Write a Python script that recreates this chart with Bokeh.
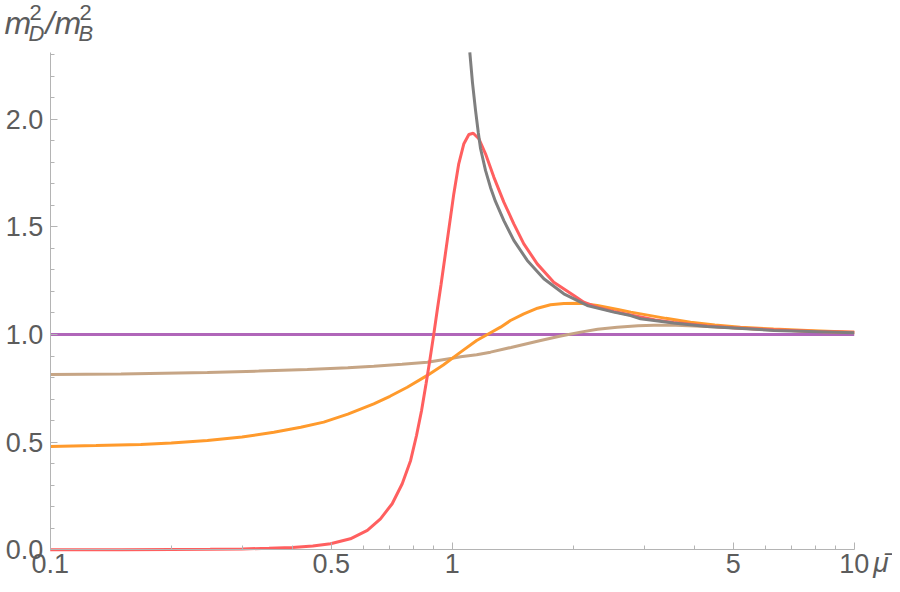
from bokeh.plotting import figure
from bokeh.models import FixedTicker, CustomJSTickFormatter, Label, LinearAxis, LogAxis
from bokeh.embed import file_html
from bokeh.resources import INLINE

# ---------------- data ----------------
red_x = [0.1, 0.15, 0.2, 0.25, 0.3, 0.35, 0.4, 0.45, 0.498, 0.558, 0.615, 0.663, 0.709,
         0.751, 0.788, 0.815, 0.839, 0.861, 0.881, 0.9, 0.919, 0.938, 0.972, 1.009, 1.038,
         1.069, 1.1, 1.128, 1.165, 1.21, 1.269, 1.344, 1.423, 1.507, 1.627, 1.789, 2.007,
         2.125, 2.3, 2.523, 2.777, 3.2, 3.552, 4.309, 5.0, 6.31, 8.0, 10.0]
red_y = [0.0, 0.0, 0.001, 0.002, 0.004, 0.007, 0.011, 0.018, 0.028, 0.051, 0.090, 0.144,
         0.214, 0.307, 0.415, 0.531, 0.647, 0.772, 0.889, 1.003, 1.121, 1.232, 1.437, 1.653,
         1.793, 1.886, 1.929, 1.935, 1.909, 1.839, 1.731, 1.615, 1.514, 1.421, 1.328, 1.243,
         1.181, 1.150, 1.126, 1.107, 1.091, 1.067, 1.056, 1.040, 1.031, 1.022, 1.014, 1.010]

gray_x = [1.106, 1.123, 1.143, 1.161, 1.176, 1.21, 1.245, 1.281, 1.344, 1.423, 1.537,
          1.69, 1.895, 2.167, 2.523, 2.777, 2.94, 3.552, 4.309, 6.31, 10.0]
gray_y = [2.310, 2.170, 2.040, 1.938, 1.864, 1.762, 1.683, 1.618, 1.529, 1.437, 1.344,
          1.259, 1.189, 1.135, 1.104, 1.088, 1.073, 1.053, 1.037, 1.019, 1.008]

orange_x = [0.1, 0.13, 0.168, 0.2, 0.246, 0.3, 0.36, 0.42, 0.479, 0.55, 0.638, 0.7,
            0.773, 0.867, 0.95, 1.049, 1.15, 1.245, 1.319, 1.396, 1.507, 1.63, 1.756,
            1.895, 2.086, 2.295, 2.6, 2.782, 3.4, 3.915, 4.5, 5.21, 6.3, 7.64, 10.0]
orange_y = [0.480, 0.484, 0.489, 0.496, 0.508, 0.524, 0.546, 0.569, 0.593, 0.630, 0.678,
            0.713, 0.755, 0.810, 0.858, 0.918, 0.972, 1.008, 1.034, 1.065, 1.096, 1.122,
            1.138, 1.144, 1.145, 1.135, 1.115, 1.104, 1.075, 1.057, 1.044, 1.034, 1.025,
            1.019, 1.010]

tan_x = [0.1, 0.15, 0.246, 0.33, 0.436, 0.55, 0.638, 0.75, 0.867, 1.0, 1.049, 1.15,
         1.245, 1.4, 1.659, 1.85, 2.086, 2.3, 2.573, 2.9, 3.173, 3.6, 4.31, 5.0, 6.0,
         7.5, 10.0]
tan_y = [0.814, 0.817, 0.824, 0.830, 0.837, 0.845, 0.853, 0.862, 0.871, 0.890, 0.897,
         0.906, 0.918, 0.940, 0.972, 0.992, 1.011, 1.024, 1.034, 1.041, 1.043, 1.043,
         1.037, 1.031, 1.023, 1.016, 1.008]

purple_x = [0.1, 10.0]
purple_y = [1.0, 1.0]

x_ticks = [0.1, 0.5, 1.0, 5.0, 10.0]
x_tick_labels = ["0.1", "0.5", "1", "5", "10"]
x_minor = [0.2, 0.3, 0.4, 0.6, 0.7, 0.8, 0.9, 2.0, 3.0, 4.0, 6.0, 7.0, 8.0, 9.0]

y_ticks = [0.0, 0.5, 1.0, 1.5, 2.0]
y_tick_labels = ["0.0", "0.5", "1.0", "1.5", "2.0"]
y_minor = [0.1, 0.2, 0.3, 0.4, 0.6, 0.7, 0.8, 0.9, 1.1, 1.2, 1.3, 1.4,
           1.6, 1.7, 1.8, 1.9, 2.1, 2.2, 2.3]

x_label = "\u03bc\u0304"

x_bounds = (0.1, 10.0)
y_bounds = (0.0, 2.31)

# ---------------- geometry ----------------
W, H = 892, 584
# plot area spans the whole canvas; the axes are drawn at fixed data locations
x_view = (0.07521, 12.452)
y_view = (-0.16117, 2.55132)

FONT = "Liberation Sans"
TXT = "#5c5c5c"
AX = "#b4b4b4"

p = figure(width=W, height=H, x_axis_type="log",
           x_range=x_view, y_range=y_view,
           x_axis_location=None, y_axis_location=None,
           output_backend="svg", toolbar_location=None,
           min_border=0)
p.outline_line_color = None
p.grid.visible = False
p.background_fill_color = "white"
p.border_fill_color = "white"

def fmt(vals, labs):
    return CustomJSTickFormatter(args=dict(v=vals, s=labs), code="""
        for (let i = 0; i < v.length; i++) {
            if (Math.abs(v[i] - tick) <= 1e-9 * Math.max(1, Math.abs(tick))) return s[i];
        }
        return '';
    """)

xaxis = LogAxis(fixed_location=0.0, bounds=x_bounds,
                ticker=FixedTicker(ticks=x_ticks, minor_ticks=x_minor),
                formatter=fmt(x_ticks, x_tick_labels))
yaxis = LinearAxis(fixed_location=0.1, bounds=y_bounds,
                   ticker=FixedTicker(ticks=y_ticks, minor_ticks=y_minor),
                   formatter=fmt(y_ticks, y_tick_labels))

for ax, so in ((xaxis, 4), (yaxis, 7)):
    ax.axis_line_color = AX
    ax.axis_line_width = 1
    ax.major_tick_line_color = AX
    ax.minor_tick_line_color = AX
    ax.major_tick_in = 7
    ax.major_tick_out = 0
    ax.minor_tick_in = 4
    ax.minor_tick_out = 0
    ax.major_label_text_font = FONT
    ax.major_label_text_font_size = "27px"
    ax.major_label_text_color = TXT
    ax.major_label_standoff = so

p.add_layout(xaxis, "below")
p.add_layout(yaxis, "left")

# ---------------- curves ----------------
LW = 3
p.line(purple_x, purple_y, line_color="#B066B9", line_width=LW)
p.line(tan_x, tan_y, line_color="#C6A585", line_width=LW)
p.line(orange_x, orange_y, line_color="#FF9A2C", line_width=LW)
p.line(red_x, red_y, line_color="#FF5F5F", line_width=LW)
p.line(gray_x, gray_y, line_color="#7F7F7F", line_width=LW)

# ---------------- axis titles ----------------
def lab(text, xo, yo, size, italic=True, x=0.1, y=2.31):
    p.add_layout(Label(x=x, y=y, x_offset=xo, y_offset=yo, text=text,
                       text_font=FONT, text_font_size=size,
                       text_font_style="italic" if italic else "normal",
                       text_color=TXT, text_baseline="top",
                       text_align="left"))

# y title: m_D^2 / m_B^2 (offsets from the top of the y axis)
lab("m", -45.7, 47, "32px")
lab("2", -20.7, 47, "22px", italic=False)
lab("D", -21.7, 31, "22px")
lab("/", -4.7, 47, "32px")
lab("m", 4.3, 47, "32px")
lab("2", 29.3, 47, "22px", italic=False)
lab("B", 28.3, 31, "22px")

# x title: mu-bar right of the x axis end
lab(x_label, 19, 3, "28px", x=10, y=0)

open("out.html", "w").write(file_html(p, INLINE))
